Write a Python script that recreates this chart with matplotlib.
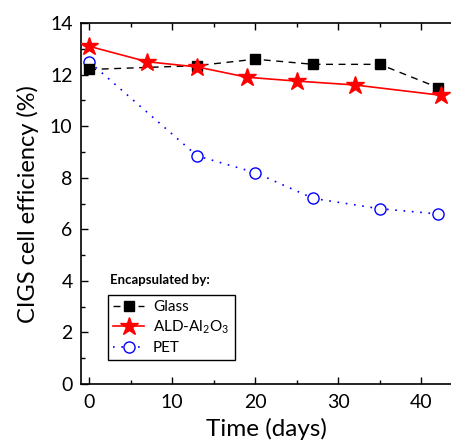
import numpy as np
import matplotlib.pyplot as plt
from matplotlib.ticker import MultipleLocator

plt.rcParams['font.family'] = ['Lato', 'DejaVu Sans']
plt.rcParams['mathtext.fontset'] = 'custom'
plt.rcParams['mathtext.rm'] = 'Lato'

# data
glass_days = [0, 13, 20, 27, 35, 42]
glass_eff = [12.2, 12.35, 12.6, 12.4, 12.4, 11.5]

ald_days = [0, 7, 13, 19, 25, 32, 42.4]
ald_eff = [13.1, 12.5, 12.3, 11.9, 11.75, 11.6, 11.2]

pet_days = [0, 13, 20, 27, 35, 42]
pet_eff = [12.5, 8.85, 8.2, 7.2, 6.8, 6.6]

fig = plt.figure(figsize=(4.52, 4.44), dpi=100)
ax = fig.add_axes([0.179, 0.135, 0.821, 0.813])

ax.plot(glass_days, glass_eff, color='black', ls=(0, (5, 4)), lw=1.0,
        marker='s', ms=7, mfc='black', mec='black', label='Glass', zorder=3)
ax.plot(ald_days, ald_eff, color='red', ls='-', lw=1.2,
        marker='*', ms=13.5, mfc='red', mec='red', label='ALD-Al$_2$O$_3$', zorder=4)
ax.plot(pet_days, pet_eff, color='blue', ls=(0, (1, 4)), lw=1.2,
        marker='o', ms=8, mfc='white', mec='blue', mew=1.0, label='PET', zorder=2)

ax.set_xlim(-1, 43.7)
ax.set_ylim(0, 14)
ax.xaxis.set_major_locator(MultipleLocator(10))
ax.xaxis.set_minor_locator(MultipleLocator(5))
ax.yaxis.set_major_locator(MultipleLocator(2))
ax.yaxis.set_minor_locator(MultipleLocator(1))
ax.tick_params(which='both', direction='in', top=True, right=False, labelsize=14, width=1)
ax.tick_params(which='major', length=5)
ax.tick_params(which='minor', length=3)
ax.tick_params(axis='x', pad=7)
ax.tick_params(axis='y', pad=6)
for sp in ['left', 'bottom', 'top']:
    ax.spines[sp].set_linewidth(1.2)
ax.spines['right'].set_visible(False)

ax.set_xlabel('Time (days)', fontsize=17.5, labelpad=5)
ax.set_ylabel('CIGS cell efficiency (%)', fontsize=17, labelpad=8)

leg = ax.legend(loc='lower left', bbox_to_anchor=(0.073, 0.066), borderaxespad=0,
                fontsize=11, frameon=True, fancybox=False, edgecolor='black',
                framealpha=1, handlelength=2.0, borderpad=0.35, labelspacing=0.3,
                handletextpad=0.6)
leg.get_frame().set_linewidth(1.0)
ax.text(0.078, 0.273, 'Encapsulated by:', transform=ax.transAxes,
        fontsize=9.5, fontweight='bold', ha='left', va='bottom')

fig.savefig('out.png', dpi=100)
